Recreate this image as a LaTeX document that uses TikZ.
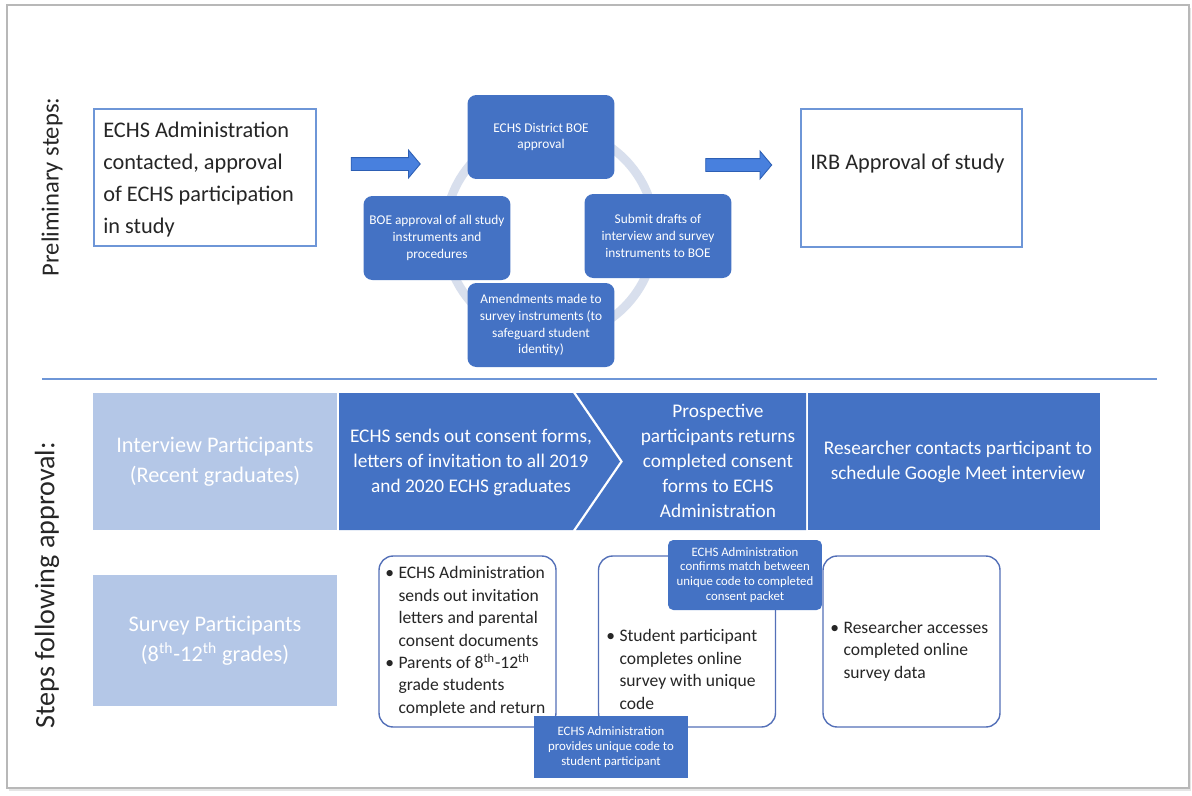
\documentclass[tikz,border=0pt]{standalone}
\usepackage{fontspec}
\setmainfont{Carlito}
\usetikzlibrary{shapes.arrows}
\definecolor{echsblue}{RGB}{68,114,196}
\definecolor{paleblue}{RGB}{180,199,231}
\definecolor{edgeblue}{RGB}{110,150,215}
\definecolor{listedge}{RGB}{84,112,184}
\definecolor{ringblue}{RGB}{216,223,237}
\definecolor{arrowblue}{RGB}{72,128,222}
\definecolor{arrowedge}{RGB}{45,95,180}
\definecolor{inkgray}{RGB}{38,38,38}
\newcommand{\cyclnode}[4]{\node[cyclebox] (#1) at (#2,#3) {#4};}
\newcommand{\listnode}[4]{\node[listtext] (#1) at (#2,#3) {\begin{tabular}{@{}l@{\hspace{2.5pt}}l@{}}#4\end{tabular}};}
\tikzset{
  cyclebox/.style={fill=echsblue, rounded corners=5pt, text=white, align=center, minimum width=2.94cm, minimum height=1.68cm, inner sep=0pt, font=\fontsize{7.6}{9.6}\selectfont},
  plainbox/.style={draw=edgeblue, fill=white, line width=0.7pt, inner sep=0pt},
  pbox/.style={fill=paleblue, text=white, align=center, minimum width=4.88cm, inner sep=0pt, font=\fontsize{12.7}{17}\selectfont},
  bandtext/.style={text=white, align=center, inner sep=0pt, font=\fontsize{11}{14.2}\selectfont},
  listbox/.style={draw=listedge, fill=white, line width=0.8pt, rounded corners=8pt, minimum width=3.54cm, minimum height=3.42cm},
  listtext/.style={anchor=west, text=inkgray, inner sep=0pt, font=\fontsize{10}{12.8}\selectfont},
  notebox/.style={fill=echsblue, text=white, align=center, minimum width=3.08cm, inner sep=0pt, font=\fontsize{7.3}{8.5}\selectfont},
  blockarrow/.style={single arrow, fill=arrowblue, draw=arrowedge, line width=0.5pt, single arrow head extend=0.15cm, single arrow tip angle=100, inner sep=0.12cm},
}
\begin{document}
\begin{tikzpicture}[x=0.02cm, y=-0.02cm]
  \useasboundingbox (0,0) rectangle (1192,795);
  %frame
  \fill[black!10] (9,8) rectangle (1191,791);
  \filldraw[fill=white, draw=black!28, line width=0.8pt] (7,5) rectangle (1189,788);

  %side labels
  \node[rotate=90, text=inkgray, font=\fontsize{14}{16}\selectfont] (prelim) at (52,187) {Preliminary steps:};
  \node[rotate=90, text=inkgray, font=\fontsize{16}{19}\selectfont] (follow) at (47,585) {Steps following approval:};

  %top row
  \node[plainbox, minimum width=4.44cm, minimum height=2.74cm] (admin) at (205,177.5) {};
  \node[anchor=west, text=inkgray, align=left, inner sep=0pt, font=\fontsize{12.7}{18.1}\selectfont] (admintext) at (103,179.5) {ECHS Administration\\contacted, approval\\of ECHS participation\\in study};
  \node[plainbox, minimum width=4.42cm, minimum height=2.76cm] (irb) at (911.5,178) {};
  \node[anchor=west, text=inkgray, inner sep=0pt, font=\fontsize{12.7}{18.1}\selectfont] (irbtext) at (810,164) {IRB Approval of study};

  %arrows
  \node[blockarrow, minimum height=1.38cm] (arrowin) at (383,164) {};
  \node[blockarrow, minimum height=1.32cm] (arrowout) at (736,165) {};

  %cycle
  \node[circle, draw=ringblue, line width=5pt, minimum size=4.2cm, inner sep=0pt] (ring) at (550,233) {};
  \cyclnode{boe}{541}{137}{ECHS District BOE\\approval}
  \cyclnode{drafts}{658}{236}{Submit drafts of\\interview and survey\\instruments to BOE}
  \cyclnode{amend}{541}{325}{Amendments made to\\survey instruments (to\\safeguard student\\identity)}
  \cyclnode{instr}{437}{238}{BOE approval of all study\\instruments and\\procedures}

  %separator
  \draw[edgeblue, line width=0.8pt] (42,379) -- (1157,379);

  %interview row
  \node[pbox, minimum height=2.74cm] (interview) at (215,461.5) {Interview Participants\\(Recent graduates)};
  \fill[echsblue] (339,393) -- (573,393) -- (620,461.5) -- (573,530) -- (339,530) -- cycle;
  \fill[echsblue] (576,393) -- (806,393) -- (806,530) -- (576,530) -- (623,461.5) -- cycle;
  \fill[echsblue] (808,393) rectangle (1100,530);
  \node[bandtext] (sends) at (471,462) {ECHS sends out consent forms,\\letters of invitation to all 2019\\and 2020 ECHS graduates};
  \node[bandtext] (returns) at (718,461) {Prospective\\participants returns\\completed consent\\forms to ECHS\\Administration};
  \node[bandtext] (contacts) at (958,462) {Researcher contacts participant to\\schedule Google Meet interview};

  %survey row
  \node[pbox, minimum height=2.62cm] (survey) at (215,640.5) {Survey Participants\\(8\textsuperscript{th}-12\textsuperscript{th} grades)};
  \node[listbox] (invite) at (467.5,641.5) {};
  \node[listbox] (online) at (687,641.5) {};
  \node[listbox] (access) at (911.5,641.5) {};
  \listnode{invitetext}{385}{641.5}{\textbullet & ECHS Administration\\ & sends out invitation\\ & letters and parental\\ & consent documents\\ \textbullet & Parents of 8\textsuperscript{th}-12\textsuperscript{th}\\ & grade students\\ & complete and return}
  \listnode{onlinetext}{606}{671}{\textbullet & Student participant\\ & completes online\\ & survey with unique\\ & code}
  \listnode{accesstext}{830}{651}{\textbullet & Researcher accesses\\ & completed online\\ & survey data}

  %notes
  \node[notebox, rounded corners=3pt, minimum height=1.4cm] (confirm) at (745,575) {ECHS Administration\\confirms match between\\unique code to completed\\consent packet};
  \node[notebox, minimum height=1.24cm] (provide) at (611,747) {ECHS Administration\\provides unique code to\\student participant};
\end{tikzpicture}
\end{document}
